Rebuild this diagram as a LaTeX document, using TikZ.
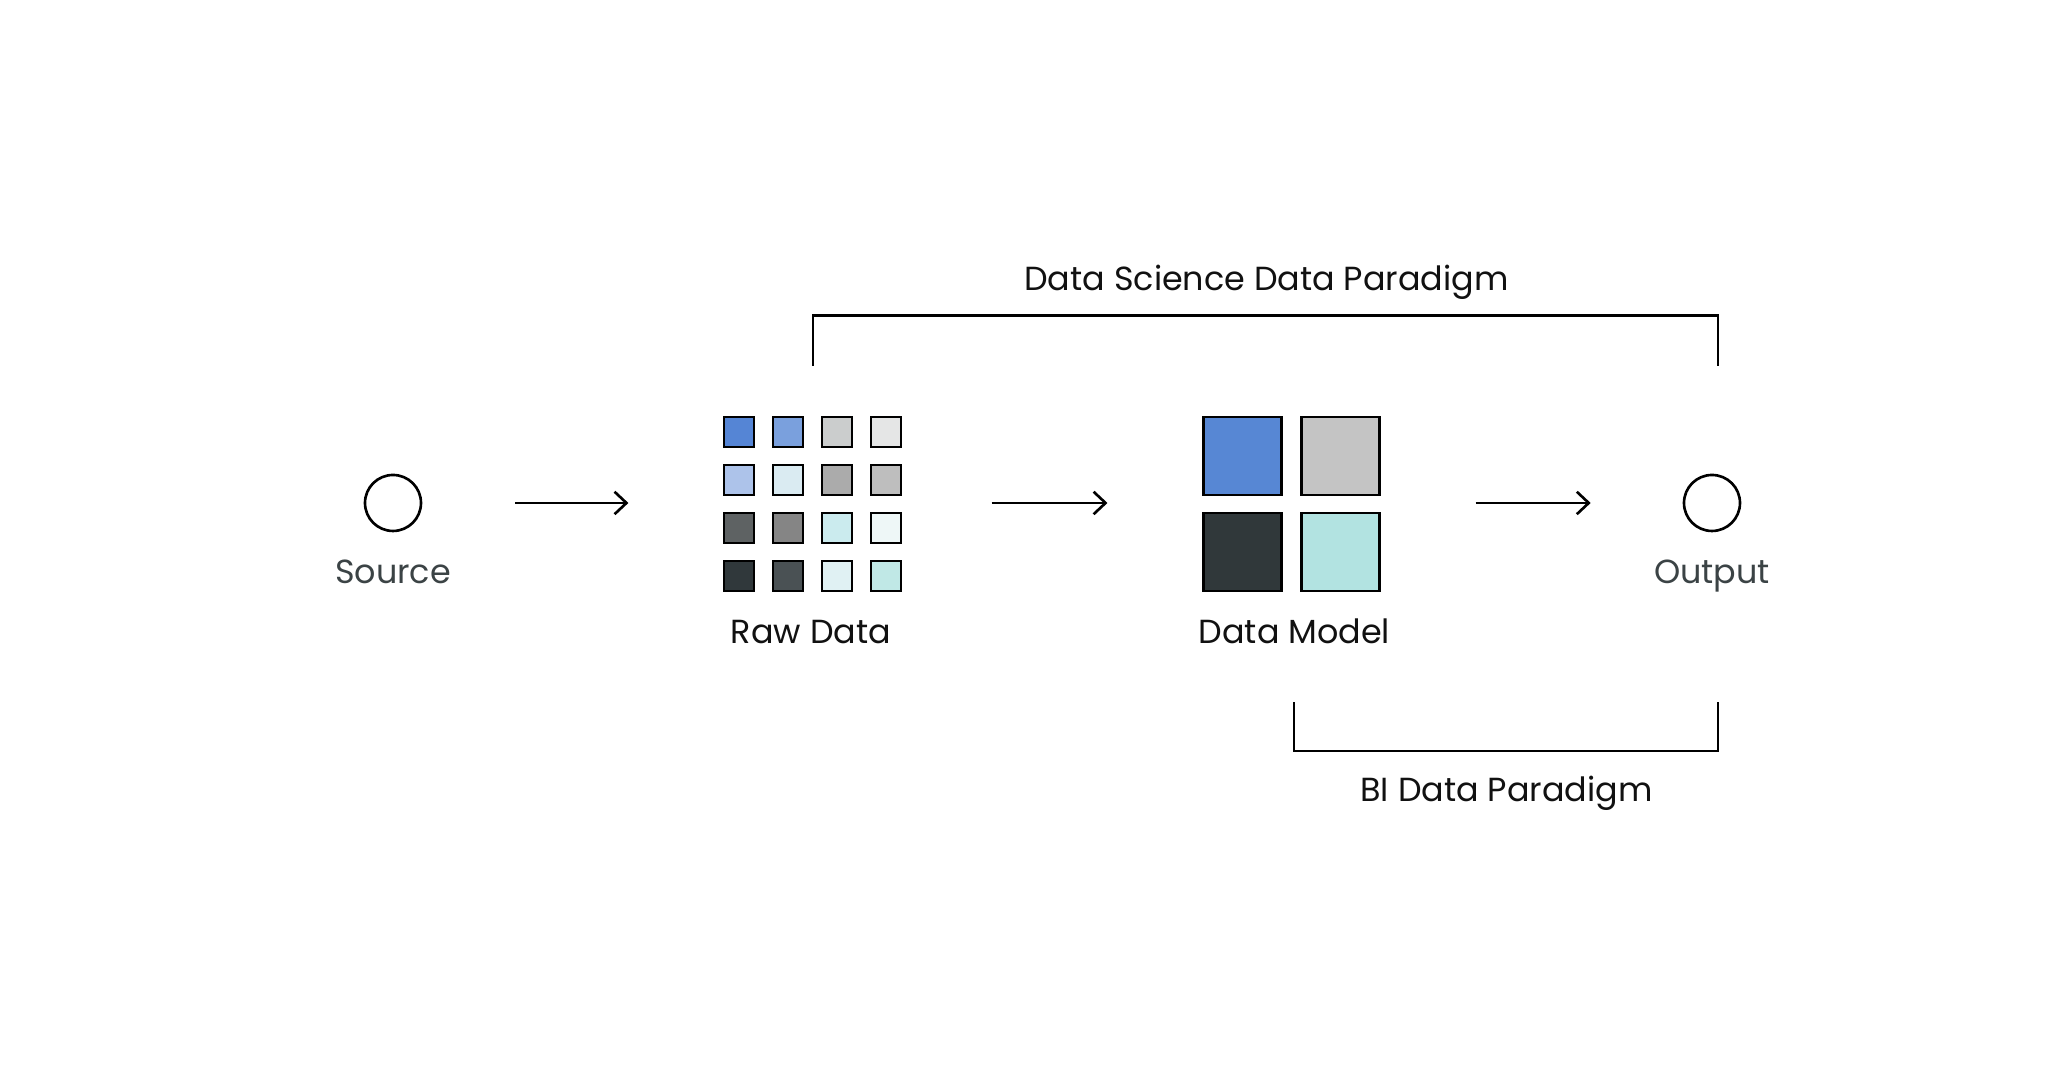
\documentclass[tikz,border=0pt]{standalone}
\usepackage{fontspec}
\setmainfont{Poppins}
\usepackage{tikz}
\usetikzlibrary{arrows.meta,positioning,fit}
\definecolor{ParadigmInk}{HTML}{111111}
\definecolor{ParadigmSlate}{HTML}{3B4345}
\definecolor{CellBlueA}{HTML}{5585D5}
\definecolor{CellBlueB}{HTML}{7AA0DD}
\definecolor{CellBlueC}{HTML}{ADC3EA}
\definecolor{CellGrayA}{HTML}{CBCDCD}
\definecolor{CellGrayB}{HTML}{E5E6E6}
\definecolor{CellGrayC}{HTML}{ABABAB}
\definecolor{CellGrayD}{HTML}{BEBEBE}
\definecolor{CellGrayE}{HTML}{858585}
\definecolor{CellDarkA}{HTML}{5E6263}
\definecolor{CellDarkB}{HTML}{30383B}
\definecolor{CellDarkC}{HTML}{4A5154}
\definecolor{CellTealA}{HTML}{DAEBF2}
\definecolor{CellTealB}{HTML}{CBEBEE}
\definecolor{CellTealC}{HTML}{EEF7F7}
\definecolor{CellTealD}{HTML}{E0F1F3}
\definecolor{CellTealE}{HTML}{C0E8E6}
\definecolor{ModelBlue}{HTML}{5787D4}
\definecolor{ModelGray}{HTML}{C4C4C4}
\definecolor{ModelDark}{HTML}{30383A}
\definecolor{ModelTeal}{HTML}{B2E3E1}

\begin{document}
\begin{tikzpicture}[
    every node/.style={align=center, font=\fontsize{9.5}{11}\selectfont, text=ParadigmInk},
    stage/.style={circle, draw=black, line width=0.75pt, minimum size=0.56cm, inner sep=0pt},
    cell/.style={draw=black, line width=0.65pt, minimum size=0.295cm, inner sep=0pt},
    block/.style={draw=black, line width=0.75pt, minimum size=0.78cm, inner sep=0pt},
    flow/.style={-{Straight Barb[length=3.4pt,width=6.4pt]}, line width=0.75pt},
    brace/.style={draw=black, line width=0.75pt}
  ]
  \useasboundingbox[fill=white] (0,0) rectangle (20.48,10.72);

  % source and output
  \node[stage] (src) at (3.93,5.69) {};
  \node[anchor=base, text=ParadigmSlate] (srcl) at (3.93,4.885) {Source};
  \node[stage] (out) at (17.12,5.69) {};
  \node[anchor=base, text=ParadigmSlate] (outl) at (17.12,4.885) {Output};

  % raw data grid
  \foreach \col/\row/\shade in {
      1/1/CellBlueA, 2/1/CellBlueB, 3/1/CellGrayA, 4/1/CellGrayB,
      1/2/CellBlueC, 2/2/CellTealA, 3/2/CellGrayC, 4/2/CellGrayD,
      1/3/CellDarkA, 2/3/CellGrayE, 3/3/CellTealB, 4/3/CellTealC,
      1/4/CellDarkB, 2/4/CellDarkC, 3/4/CellTealD, 4/4/CellTealE}
    \node[cell, fill=\shade] (r\row\col) at ({6.90+0.49*\col},{6.88-0.48*\row}) {};
  \node[fit=(r11)(r44), inner sep=0pt] (raw) {};
  \node[anchor=base] (rawl) at (8.11,4.285) {Raw Data};

  % data model blocks
  \node[block, fill=ModelBlue] (m11) at (12.425,6.16) {};
  \node[block, fill=ModelGray] (m12) at (13.405,6.16) {};
  \node[block, fill=ModelDark] (m21) at (12.425,5.20) {};
  \node[block, fill=ModelTeal] (m22) at (13.405,5.20) {};
  \node[fit=(m11)(m22), inner sep=0pt] (model) {};
  \node[anchor=base] (modell) at (12.945,4.285) {Data Model};

  % flow arrows
  \draw[flow, shorten <=0.93cm, shorten >=0.94cm] (src.east) -- (src.east -| raw.west);
  \draw[flow, shorten <=0.89cm, shorten >=0.94cm] (raw.east |- src) -- (model.west |- src);
  \draw[flow, shorten <=0.94cm, shorten >=0.92cm] (model.east |- src) -- (out.west);

  % paradigm brackets
  \draw[brace] (8.13,7.06) -- (8.13,7.565) -- (17.18,7.565) -- (17.18,7.06);
  \node[anchor=base] (dsl) at (12.665,7.81) {Data Science Data Paradigm};
  \draw[brace] (12.94,3.695) -- (12.94,3.21) -- (17.18,3.21) -- (17.18,3.695);
  \node[anchor=base] (bil) at (15.065,2.70) {BI Data Paradigm};
\end{tikzpicture}
\end{document}
